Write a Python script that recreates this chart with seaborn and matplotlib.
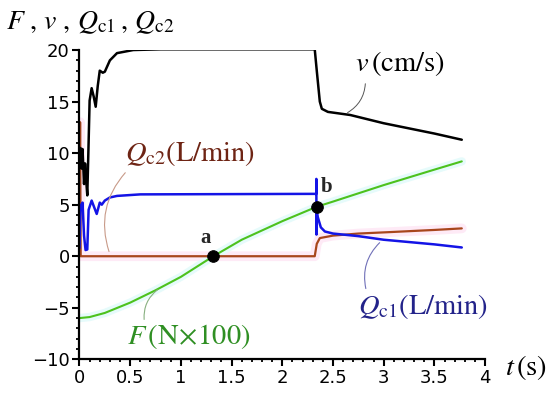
import matplotlib
matplotlib.use("Agg")
import matplotlib.pyplot as plt
import seaborn as sns
import pandas as pd
from matplotlib.ticker import MultipleLocator

# ---- data ----
t_v = [0.0, 0.01, 0.02, 0.03, 0.045, 0.055, 0.065, 0.077, 0.09, 0.10, 0.12, 0.14, 0.16, 0.18,
       0.20, 0.23, 0.25, 0.30, 0.37, 0.53, 0.8, 2.32, 2.34, 2.37, 2.39, 2.45, 2.67, 3.0, 3.5, 3.77]
v = [10.3, 10.5, 8.5, 10.4, 7.0, 9.0, 7.5, 5.9, 11.0, 15.1, 16.3, 15.5, 14.5, 16.5,
     18.0, 17.8, 17.9, 19.0, 19.7, 20.0, 20.07, 20.07, 18.0, 15.0, 14.3, 14.0, 13.7, 12.9, 11.9, 11.3]

t_F = [0.0, 0.1, 0.25, 0.5, 0.75, 1.0, 1.32, 1.6, 2.0, 2.34, 2.5, 3.0, 3.5, 3.77]
F = [-6.0, -5.9, -5.5, -4.5, -3.3, -2.0, 0.0, 1.6, 3.4, 4.8, 5.3, 6.9, 8.4, 9.2]

t_q1 = [0.0, 0.01, 0.02, 0.03, 0.045, 0.06, 0.077, 0.09, 0.12, 0.17, 0.20, 0.22, 0.25, 0.30,
        0.37, 0.6, 2.335, 2.336, 2.337, 2.338, 2.35, 2.38, 2.42, 2.5, 2.75, 3.0, 3.5, 3.77]
q1 = [0.8, 5.0, 4.5, 5.2, 2.0, 0.6, 0.65, 4.5, 5.4, 4.1, 5.2, 5.0, 5.4, 5.7,
      5.85, 6.0, 6.05, 7.5, 2.1, 4.6, 3.8, 2.8, 2.4, 2.2, 1.95, 1.6, 1.15, 0.85]

t_q2 = [0.0, 0.006, 0.012, 0.02, 2.32, 2.34, 2.37, 2.5, 2.75, 3.06, 3.5, 3.77]
q2 = [0.0, 13.0, 0.0, 0.0, 0.0, 1.2, 1.76, 2.0, 2.2, 2.34, 2.55, 2.7]

pts_t = [1.32, 2.34]
pts_y = [0.0, 4.8]
pts_lab = ["a", "b"]

x_ticks = [0, 0.5, 1, 1.5, 2, 2.5, 3, 3.5, 4]
y_ticks = [-10, -5, 0, 5, 10, 15, 20]

sns.set_theme(style="ticks")
plt.rcParams["font.family"] = ["DejaVu Sans"]
plt.rcParams["mathtext.fontset"] = "stix"

fig = plt.figure(figsize=(5.5, 3.94), dpi=100)
ax = fig.add_axes([0.1445, 0.088, 0.7375, 0.785])

dv = pd.DataFrame({"t": t_v, "y": v})
dF = pd.DataFrame({"t": t_F, "y": F})
d1 = pd.DataFrame({"t": t_q1, "y": q1})
d2 = pd.DataFrame({"t": t_q2, "y": q2})

# faint halos (as in the scanned reference)
sns.lineplot(data=d2, x="t", y="y", ax=ax, color="#feeaf6", lw=7, sort=False, estimator=None)
sns.lineplot(data=dF, x="t", y="y", ax=ax, color="#e6fbfb", lw=6, sort=False, estimator=None)

sns.lineplot(data=d2, x="t", y="y", ax=ax, color="#a8461c", lw=1.6, sort=False, estimator=None)
sns.lineplot(data=d1, x="t", y="y", ax=ax, color="#1414e6", lw=1.8, sort=False, estimator=None)
sns.lineplot(data=dF, x="t", y="y", ax=ax, color="#4cc21e", lw=1.5, sort=False, estimator=None)
sns.lineplot(data=dv, x="t", y="y", ax=ax, color="black", lw=1.8, sort=False, estimator=None)

sns.scatterplot(x=pts_t, y=pts_y, ax=ax, color="black", s=70, zorder=5, edgecolor="black")

ax.set_xlim(0, 4)
ax.set_ylim(-10, 20)
ax.set_xticks(x_ticks)
ax.set_xticklabels([f"{x:g}" for x in x_ticks])
ax.set_yticks(y_ticks)
ax.set_yticklabels([f"{y:g}".replace("-", "\u2212") for y in y_ticks])
ax.xaxis.set_minor_locator(MultipleLocator(0.1))
ax.yaxis.set_minor_locator(MultipleLocator(1))
ax.tick_params(axis="both", which="major", direction="out", length=5, width=1.5,
               labelsize=13, color="black", labelcolor="black", pad=2)
ax.tick_params(axis="both", which="minor", direction="out", length=2.5, width=1.3, color="black")
ax.set_xlabel("")
ax.set_ylabel("")
for s in ["top", "right"]:
    ax.spines[s].set_visible(False)
for s in ["left", "bottom"]:
    ax.spines[s].set_linewidth(1.6)
    ax.spines[s].set_color("black")

# labels
fs = 20.5
ax.text(2.72, 18.7, r"$v\,\left(\mathrm{cm/s}\right)$", fontsize=fs, color="black", va="center")
ax.text(0.45, 10.0, r"$Q_{\mathrm{c2}}\left(\mathrm{L/min}\right)$", fontsize=fs, color="#6e2414", va="center")
ax.text(2.75, -4.9, r"$Q_{\mathrm{c1}}\left(\mathrm{L/min}\right)$", fontsize=fs, color="#23238a", va="center")
ax.text(0.47, -7.8, r"$F\,\left(\mathrm{N}\!\times\!100\right)$", fontsize=fs, color="#2f8f23", va="center")
ax.text(4.2, -10.8, r"$t\,\left(\mathrm{s}\right)$", fontsize=fs, color="black", va="center", clip_on=False)
fig.text(0.01, 0.945, r"$F\ ,\,v\ ,\,Q_{\mathrm{c1}}\,,\,Q_{\mathrm{c2}}$", fontsize=20, color="black", va="center")

for tx, ty, lab in zip([1.24, 2.44], [1.8, 6.7], pts_lab):
    ax.text(tx, ty, lab, fontsize=15, fontweight="bold", family="Liberation Serif",
            ha="center", va="center")

# leader lines
ax.annotate("", xy=(2.62, 13.8), xytext=(2.82, 17.0),
            arrowprops=dict(arrowstyle="-", color="#555555", lw=0.7, connectionstyle="arc3,rad=-0.3"))
ax.annotate("", xy=(0.30, 0.2), xytext=(0.47, 8.3),
            arrowprops=dict(arrowstyle="-", color="#c89a88", lw=0.8, connectionstyle="arc3,rad=0.3"))
ax.annotate("", xy=(2.98, 1.5), xytext=(2.83, -3.4),
            arrowprops=dict(arrowstyle="-", color="#7070b8", lw=0.8, connectionstyle="arc3,rad=-0.3"))
ax.annotate("", xy=(0.79, -3.1), xytext=(0.64, -6.4),
            arrowprops=dict(arrowstyle="-", color="#88b080", lw=0.8, connectionstyle="arc3,rad=-0.3"))

fig.savefig("out.png", dpi=100)
